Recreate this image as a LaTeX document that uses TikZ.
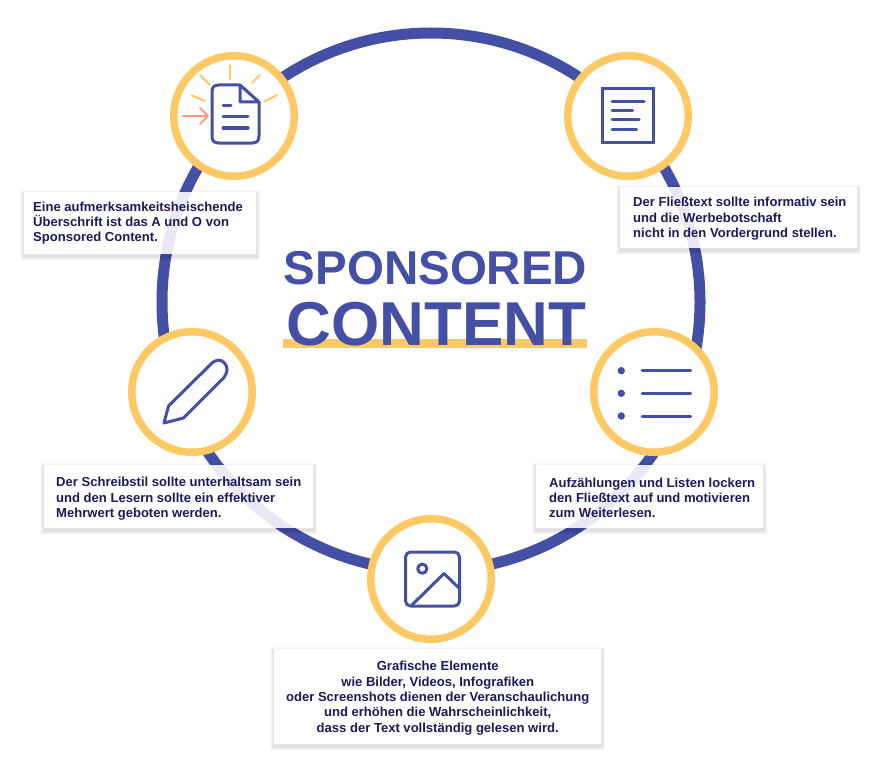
\documentclass[tikz,border=0pt]{standalone}
\usepackage{fontspec}
\setmainfont{Liberation Sans}
\definecolor{ringblue}{HTML}{4450A6}
\definecolor{sun}{HTML}{FDC965}
\definecolor{coral}{HTML}{FB9C78}
\definecolor{navy}{HTML}{1B1B5C}
\pgfdeclarelayer{ringlayer}
\pgfdeclarelayer{shadowlayer}
\pgfsetlayers{ringlayer,shadowlayer,main}
\tikzset{
  x=1pt, y=-1pt,
  bigring/.style={circle, draw=ringblue, line width=11pt, minimum size=538pt, inner sep=0pt},
  badge/.style={circle, draw=sun, fill=white, line width=7.5pt, minimum size=120.5pt, inner sep=0pt},
  infobox/.style={fill=white, fill opacity=.88, inner sep=0pt, anchor=north west},
  infotext/.style={text=navy, inner sep=0pt, font=\fontsize{13.05pt}{15.3pt}\selectfont\bfseries},
  icon/.style={draw=ringblue, line width=3pt, line cap=round, line join=round},
  ray/.style={draw=sun, line width=2pt, line cap=round},
  titletext/.style={text=ringblue, inner sep=0pt, anchor=base, font=\bfseries}
}
% Soft shadow around an info box: stacked translucent frames that stop at the box edge
\newcommand{\softshadow}[1]{%
  \begin{pgfonlayer}{shadowlayer}
    \foreach \g in {0.5,1,...,4}{
      \fill[black, opacity=.014, even odd rule]
        ([xshift=-\g pt, yshift=-\g pt-2pt]#1.south west) rectangle ([xshift=\g pt, yshift=\g pt-2pt]#1.north east)
        (#1.south west) rectangle (#1.north east);
    }
  \end{pgfonlayer}}
\begin{document}
\begin{tikzpicture}
\useasboundingbox (0,0) rectangle (888,773);

% Page background and the large ring behind everything
\begin{pgfonlayer}{ringlayer}
  \fill[white] (0,0) rectangle (888,773);
  \node[bigring] (ring) at (431,302) {};
\end{pgfonlayer}

% Title with highlighter stripe
\fill[sun] (283,339) rectangle (587,348);
\node[titletext, font=\fontsize{47.5pt}{48pt}\selectfont\bfseries] (title1) at (435.5,284) {SPONSORED};
\node[titletext, font=\fontsize{62pt}{62pt}\selectfont\bfseries] (title2) at (436.5,345.5) {CONTENT};

% Badges on the ring
\node[badge] (b1) at (234,116) {};
\node[badge] (b2) at (628,116) {};
\node[badge] (b3) at (192,392) {};
\node[badge] (b4) at (654,392) {};
\node[badge] (b5) at (431,579) {};

% Headline icon: sheet with rays and arrow
\draw[icon] (240,85) -- (219,85) .. controls (214,85) and (212,87) .. (212,92) -- (212,136)
  .. controls (212,141) and (214,143) .. (219,143) -- (252,143)
  .. controls (257,143) and (259,141) .. (259,136) -- (259,102) -- (240,85) -- (240,102) -- (259,102);
\draw[icon] (223,105.5) -- (231,105.5);
\draw[icon] (223,116.5) -- (248,116.5);
\draw[icon] (223,128) -- (248,128);
\draw[ray] (229.5,65.5) -- (229.5,79);
\draw[ray] (200,75) -- (210,85);
\draw[ray] (192,95.5) -- (205,101);
\draw[ray] (252,83) -- (260,75);
\draw[ray] (264.5,101.5) -- (277,95);
\draw[coral, line width=1.8pt, line cap=round, line join=round]
  (183,116) -- (208,116) (200,108) -- (208,116) -- (200,124);

% Body text icon
\draw[icon, line cap=butt, line join=miter] (602,88.5) rectangle (653,142.5);
\draw[icon] (612,101.7) -- (644,101.7);
\draw[icon] (612,110.3) -- (632.5,110.3);
\draw[icon] (612,120) -- (639,120);
\draw[icon] (612,129.3) -- (636.5,129.3);

% Pencil icon
\draw[icon] (164,423) -- (168.5,406) -- (211,364)
  .. controls (216,359) and (221,359) .. (224.5,363)
  .. controls (228,367) and (228,372) .. (224,377.5)
  -- (183.5,418) -- cycle;

% Bullet list icon
\foreach \yy in {370.7,393.3,416}{
  \fill[ringblue] (621.3,\yy) circle (3.7pt);
  \draw[icon] (642,\yy) -- (690.5,\yy);
}

% Picture icon
\draw[icon, rounded corners=5pt] (405.5,552) rectangle (459.5,606);
\draw[icon] (422.3,568.7) circle (4.6pt);
\draw[icon] (412,605) -- (444,573.5) -- (459.5,588.5);

% Explanatory boxes
\node[infobox, minimum width=232pt, minimum height=62pt] (t1) at (24,192) {};
\node[infobox, minimum width=237pt, minimum height=61pt] (t2) at (620,187) {};
\node[infobox, minimum width=269pt, minimum height=63pt] (t3) at (44,465) {};
\node[infobox, minimum width=227pt, minimum height=63pt] (t4) at (536,465) {};
\node[infobox, minimum width=327pt, minimum height=95pt] (t5) at (274,649) {};
\softshadow{t1}
\softshadow{t2}
\softshadow{t3}
\softshadow{t4}
\softshadow{t5}

% Box captions
\node[infotext, anchor=west, align=left, xshift=9pt] (c1) at (t1.west)
  {Eine aufmerksamkeitsheischende\\Überschrift ist das A und O von\\Sponsored Content.};
\node[infotext, anchor=west, align=left, xshift=13pt, yshift=-1pt] (c2) at (t2.west)
  {Der Fließtext sollte informativ sein\\und die Werbebotschaft\\nicht in den Vordergrund stellen.};
\node[infotext, anchor=west, align=left, xshift=12pt, yshift=-2pt] (c3) at (t3.west)
  {Der Schreibstil sollte unterhaltsam sein\\und den Lesern sollte ein effektiver\\Mehrwert geboten werden.};
\node[infotext, anchor=west, align=left, xshift=13pt, yshift=-1pt] (c4) at (t4.west)
  {Aufzählungen und Listen lockern\\den Fließtext auf und motivieren\\zum Weiterlesen.};
\node[infotext, align=center, yshift=-1.5pt] (c5) at (t5.center)
  {Grafische Elemente\\wie Bilder, Videos, Infografiken\\oder Screenshots dienen der Veranschaulichung\\und erhöhen die Wahrscheinlichkeit,\\dass der Text vollständig gelesen wird.};
\end{tikzpicture}
\end{document}
